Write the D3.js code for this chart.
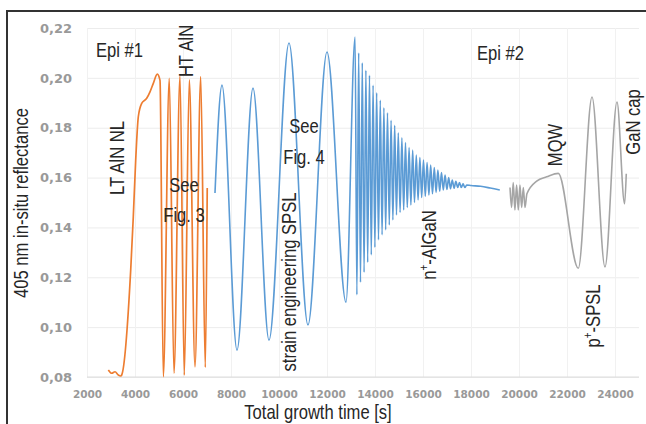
<!DOCTYPE html>
<html>
<head>
<meta charset="utf-8">
<script src="https://cdn.jsdelivr.net/npm/d3@7"></script>
<style>
  html, body { margin: 0; padding: 0; background: #fff; }
  svg { display: block; }
  .note { font-family: "Liberation Sans", Arial, sans-serif; fill: #262626; }
  .tick text { font-family: "DejaVu Sans", sans-serif; font-weight: bold; fill: #999; }
</style>
</head>
<body>
<svg id="chart" width="646" height="424"></svg>
<script>
// Axis ticks
const xTicks = [2000, 4000, 6000, 8000, 10000, 12000, 14000, 16000, 18000, 20000, 22000, 24000];
const yTicks = [0.08, 0.10, 0.12, 0.14, 0.16, 0.18, 0.20, 0.22];

// Epi #1 : LT AlN nucleation layer and HT AlN (orange)
const epi1Time = [2888, 3029, 3167, 3304, 3404, 3446, 3821, 3929, 4029, 4138, 4279, 4488, 4625, 4763, 4929,
  5042, 5179, 5429, 5625, 5875, 6054, 6263, 6500, 6738, 6929, 7010];
const epi1Refl = [0.0828, 0.0815, 0.0821, 0.0808, 0.0804, 0.0808, 0.1229, 0.1443, 0.1670, 0.1844, 0.1898, 0.1918, 0.1944, 0.1978, 0.2015,
  0.1990, 0.0801, 0.1998, 0.0815, 0.2007, 0.0808, 0.1992, 0.0841, 0.2005, 0.0839, 0.1558];

// Epi #1 : strain engineering SPSL and n+-AlGaN (blue)
const spslTime = [7333, 7625, 8250, 8917, 9583, 10417, 11208, 12000, 12792,
  13170, 13245, 13320, 13395, 13470, 13545, 13620, 13695, 13770, 13845, 13920, 13995,
  14070, 14145, 14220, 14295, 14370, 14445, 14520, 14595, 14670, 14745, 14820, 14895,
  14970, 15045, 15120, 15195, 15270, 15345, 15420, 15495, 15570, 15645, 15720, 15795,
  15870, 15945, 16020, 16095, 16170, 16245, 16320, 16395, 16470, 16545, 16620, 16695,
  16770, 16845, 16920, 16995, 17070, 17145, 17220, 17295, 17370, 17445, 17520, 17595,
  17670, 17745, 17820, 18000, 18400, 18800, 19200];
const spslRefl = [0.1538, 0.1971, 0.0908, 0.1959, 0.0948, 0.2140, 0.1009, 0.2104, 0.1100,
  0.2164, 0.1130, 0.2100, 0.1180, 0.2060, 0.1220, 0.2030, 0.1260, 0.2010, 0.1290, 0.1970, 0.1320,
  0.1940, 0.1350, 0.1910, 0.1370, 0.1880, 0.1390, 0.1860, 0.1410, 0.1830, 0.1430, 0.1810, 0.1450,
  0.1780, 0.1460, 0.1760, 0.1470, 0.1740, 0.1480, 0.1720, 0.1490, 0.1710, 0.1500, 0.1690, 0.1510,
  0.1680, 0.1520, 0.1670, 0.1525, 0.1660, 0.1530, 0.1650, 0.1535, 0.1640, 0.1540, 0.1630, 0.1545,
  0.1620, 0.1550, 0.1610, 0.1552, 0.1600, 0.1555, 0.1590, 0.1557, 0.1585, 0.1560, 0.1580, 0.1560,
  0.1575, 0.1560, 0.1570, 0.1568, 0.1565, 0.1558, 0.1550];

// Epi #2 : MQW, p+-SPSL and GaN cap (grey)
const epi2Time = [19625, 19690, 19760, 19830, 19900, 19970, 20040, 20110, 20180, 20250, 20330,
  20738, 21154, 21638, 22471, 23042, 23583, 24083, 24400, 24470];
const epi2Refl = [0.1560, 0.1480, 0.1580, 0.1470, 0.1570, 0.1470, 0.1570, 0.1480, 0.1560, 0.1480, 0.1535,
  0.1586, 0.1603, 0.1617, 0.1236, 0.1923, 0.1241, 0.1903, 0.1495, 0.1615];

const svg = d3.select("#chart");
const W = 646, H = 424;
const NARROW = 0.83;   // horizontal squeeze for the condensed annotation type

const x = d3.scaleLinear().domain([2000, 25000]).range([87, 639]);
const y = d3.scaleLinear().domain([0.08, 0.22]).range([377, 28]);

// outer frame
svg.append("rect").attr("x", 7).attr("y", 11).attr("width", W).attr("height", H)
  .attr("fill", "none").attr("stroke", "#333").attr("stroke-width", 2);

// gridlines
svg.append("g").attr("transform", `translate(${x.range()[0]},0)`)
  .call(d3.axisLeft(y).tickValues(yTicks).tickSize(-(x.range()[1] - x.range()[0])).tickFormat(""))
  .call(g => g.select(".domain").remove())
  .call(g => g.selectAll("line").attr("stroke", "#ececec"));
svg.append("g").attr("transform", `translate(0,${y.range()[0]})`)
  .call(d3.axisBottom(x).tickValues(xTicks).tickSize(-(y.range()[0] - y.range()[1])).tickFormat(""))
  .call(g => g.select(".domain").remove())
  .call(g => g.selectAll("line").attr("stroke", "#f1f1f1"));
svg.append("line").attr("x1", x.range()[0]).attr("x2", x.range()[1])
  .attr("y1", y(0.08)).attr("y2", y(0.08)).attr("stroke", "#dcdcdc");

// tick labels
svg.append("g").attr("transform", `translate(${x.range()[0]},0)`)
  .call(d3.axisLeft(y).tickValues(yTicks).tickSize(0).tickPadding(15)
    .tickFormat(d => d.toFixed(2).replace(".", ",")))
  .call(g => g.select(".domain").remove())
  .call(g => g.selectAll("text").attr("font-size", 13));
svg.append("g").attr("transform", `translate(0,${y.range()[0]})`)
  .call(d3.axisBottom(x).tickValues(xTicks).tickSize(0).tickPadding(14).tickFormat(d3.format("d")))
  .call(g => g.select(".domain").remove())
  .call(g => g.selectAll("text").attr("font-size", 10.5));

// reflectance traces
const line = d3.line().x(d => x(d[0])).y(d => y(d[1])).curve(d3.curveMonotoneX);
const traces = [
  { t: epi1Time, r: epi1Refl, color: "#ED7D31", w: 1.7 },
  { t: spslTime, r: spslRefl, color: "#5B9BD5", w: 1.6 },
  { t: epi2Time, r: epi2Refl, color: "#A5A5A5", w: 1.6 }
];
traces.forEach(s => {
  svg.append("path")
    .datum(d3.zip(s.t, s.r))
    .attr("d", line)
    .attr("fill", "none")
    .attr("stroke", s.color)
    .attr("stroke-width", s.w)
    .attr("stroke-linejoin", "round");
});

// annotation text helper: condensed look via horizontal squeeze
function note(tx, ty, rotated, anchor) {
  return svg.append("text").attr("class", "note").attr("font-size", 20)
    .attr("text-anchor", anchor || "middle")
    .attr("transform", `translate(${tx},${ty})` + (rotated ? " rotate(-90)" : "") + ` scale(${NARROW},1)`);
}
function label(txt, tx, ty, rotated, anchor) {
  return note(tx, ty, rotated, anchor).text(txt);
}
function supLabel(a, sup, b, tx, ty) {
  const t = note(tx, ty, true);
  t.append("tspan").text(a);
  t.append("tspan").attr("font-size", 12).attr("dy", -8).text(sup);
  t.append("tspan").attr("dy", 8).text(b);
}

// axis titles
label("405 nm in-situ reflectance", 28, 203, true);
label("Total growth time [s]", 318, 419, false);

// layer annotations
label("Epi #1", 96, 57, false, "start");
label("Epi #2", 477, 60, false, "start");
label("HT AlN", 193, 51, true);
label("LT AlN NL", 124, 158, true);
label("See", 184, 192, false);
label("Fig. 3", 184, 222, false);
label("See", 304, 133, false);
label("Fig. 4", 304, 164, false);
label("strain engineering SPSL", 296, 282, true);
supLabel("n", "+", "-AlGaN", 436, 245);
label("MQW", 562, 145, true);
label("GaN cap", 640, 122, true);
supLabel("p", "+", "-SPSL", 600, 316);
</script>
</body>
</html>
